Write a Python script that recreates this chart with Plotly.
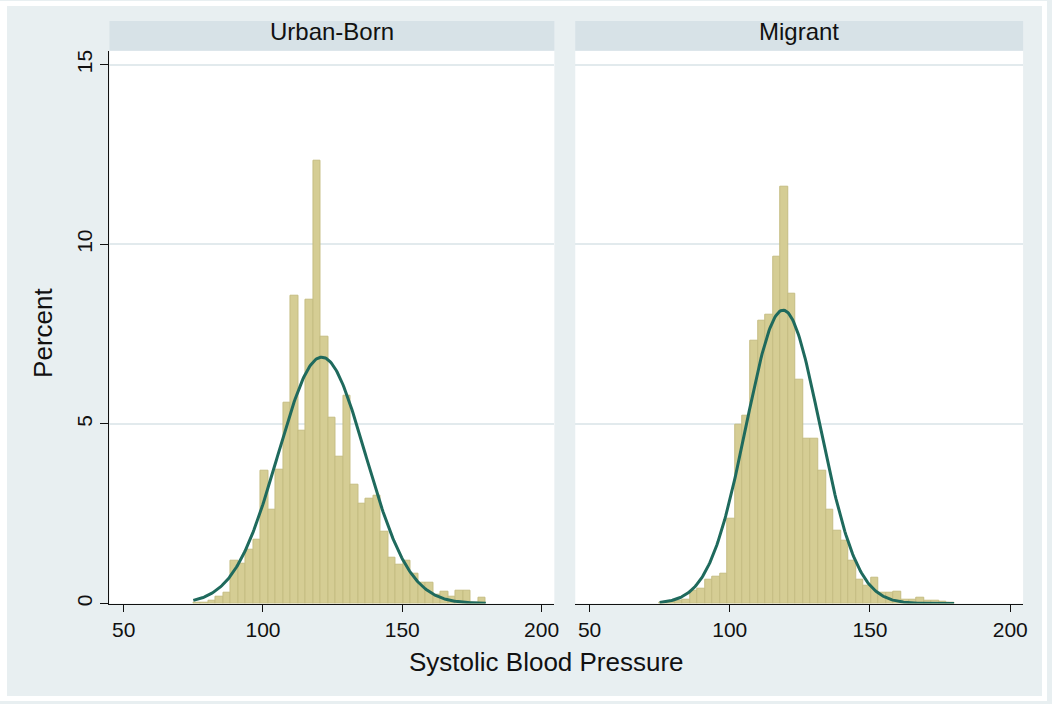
import numpy as np
import plotly.graph_objects as go

# ---- data ----
panels = ["Urban-Born", "Migrant"]
bin_lo, bin_hi, n_bins = 75.0, 180.0, 39

urban_pct = [0.02, 0.03, 0.07, 0.2, 0.3, 1.18, 1.1, 1.5, 1.78, 3.7,
             2.62, 3.72, 5.59, 8.56, 4.82, 8.45, 12.34, 7.43, 5.18, 4.09,
             5.79, 3.30, 2.79, 2.93, 3.0, 2.01, 1.27, 1.09, 1.18, 0.84,
             0.59, 0.59, 0.24, 0.33, 0.19, 0.35, 0.35, 0.03, 0.17]
migrant_pct = [0.02, 0.04, 0.07, 0.12, 0.35, 0.4, 0.65, 0.74, 0.83, 2.36,
               4.98, 5.24, 7.32, 7.86, 8.04, 9.65, 11.59, 8.63, 6.24, 4.59,
               4.59, 3.69, 2.6, 2.02, 1.75, 1.2, 0.65, 0.5, 0.72, 0.3,
               0.3, 0.33, 0.12, 0.12, 0.17, 0.09, 0.09, 0.05, 0.03]

# fitted normal parameters (mean, sd) per panel
urban_mean, urban_sd = 121.1, 15.66
migrant_mean, migrant_sd = 119.0, 13.15

x_ticks = [50, 100, 150, 200]
y_ticks = [0, 5, 10, 15]
x_title = "Systolic Blood Pressure"
y_title = "Percent"

# ---- derived ----
binw = (bin_hi - bin_lo) / n_bins
centers = bin_lo + binw * (np.arange(n_bins) + 0.5)
xc = np.linspace(bin_lo, bin_hi, 300)


def normal_pct(x, m, s):
    return 100 * binw * np.exp(-0.5 * ((x - m) / s) ** 2) / (s * np.sqrt(2 * np.pi))


W, H = 1052, 704
BG = "#E8EFF1"
STRIP = "#D7E2E7"
BAR = "#D5CD94"
BAR_LINE = "#C5BD82"
CURVE = "#1F6A5D"
GRID = "#E2EAED"
FONT = "Liberation Sans, Arial, sans-serif"

fig = go.Figure()
series = [(urban_pct, urban_mean, urban_sd), (migrant_pct, migrant_mean, migrant_sd)]
for i, (pct, m, s) in enumerate(series):
    xa = "x" if i == 0 else "x2"
    ya = "y" if i == 0 else "y2"
    fig.add_trace(go.Bar(x=centers, y=pct, width=binw, xaxis=xa, yaxis=ya,
                         marker=dict(color=BAR, line=dict(color=BAR_LINE, width=1)),
                         hoverinfo="x+y"))
    fig.add_trace(go.Scatter(x=xc, y=normal_pct(xc, m, s), mode="lines", xaxis=xa, yaxis=ya,
                             line=dict(color=CURVE, width=3)))

px = lambda v: v / W
py = lambda v: 1 - v / H

x_dom1 = [px(110), px(557)]
x_dom2 = [px(578), px(1028)]
y_dom = [py(606), py(50)]
y_range = [0, (606 - 50) / 36.13]

xcommon = dict(range=[44.9, 204.6], tickvals=x_ticks, showgrid=False, zeroline=False,
               showline=True, linecolor="#111111", linewidth=1, ticks="outside",
               ticklen=7, tickcolor="#111111",
               tickfont=dict(family=FONT, size=21, color="#111111"))
fig.update_layout(
    width=W, height=H, margin=dict(l=0, r=0, t=0, b=0),
    paper_bgcolor=BG, plot_bgcolor="white", showlegend=False, bargap=0,
    font=dict(family=FONT),
    xaxis=dict(domain=x_dom1, anchor="y", **xcommon),
    xaxis2=dict(domain=x_dom2, anchor="y2", **xcommon),
    yaxis=dict(domain=y_dom, anchor="x", range=y_range, tickvals=y_ticks,
               showgrid=True, gridcolor=GRID, gridwidth=2, zeroline=False,
               showline=True, linecolor="#111111", linewidth=1, ticks="outside",
               ticklen=8, tickcolor="#111111", tickangle=-90,
               tickfont=dict(family=FONT, size=21, color="#111111")),
    yaxis2=dict(domain=y_dom, anchor="x2", range=y_range, tickvals=y_ticks,
                showgrid=True, gridcolor=GRID, gridwidth=2, zeroline=False,
                showline=False, showticklabels=False, ticks=""),
)

shapes = []
# white outer border
for (x0, y0, x1, y1) in [(0, 0, 7, H), (0, 0, W, 5), (W - 5, 0, W, H), (0, H - 5, W, H)]:
    shapes.append(dict(type="rect", xref="paper", yref="paper", x0=px(x0), x1=px(x1),
                       y0=py(y1), y1=py(y0), fillcolor="white", line=dict(width=0), layer="below"))
# strips
for (a, b) in [(110, 557), (578, 1028)]:
    shapes.append(dict(type="rect", xref="paper", yref="paper", x0=px(a), x1=px(b),
                       y0=py(50), y1=py(20), fillcolor=STRIP, line=dict(width=0), layer="below"))
fig.update_layout(shapes=shapes)

ann = []
for name, (a, b) in zip(panels, [(110, 557), (578, 1028)]):
    ann.append(dict(text=name, xref="paper", yref="paper", x=px((a + b) / 2), y=py(31),
                    showarrow=False, xanchor="center", yanchor="middle",
                    font=dict(family=FONT, size=24, color="#111111")))
ann.append(dict(text=x_title, xref="paper", yref="paper", x=px(549), y=py(665),
                showarrow=False, xanchor="center", yanchor="middle",
                font=dict(family=FONT, size=26, color="#111111")))
ann.append(dict(text=y_title, xref="paper", yref="paper", x=px(43), y=py(334),
                showarrow=False, xanchor="center", yanchor="middle", textangle=-90,
                font=dict(family=FONT, size=26, color="#111111")))
fig.update_layout(annotations=ann)

post = (
    "var d=document.getElementById('{plot_id}');"
    "d.style.display='block';"
    "if(d.parentElement){d.parentElement.style.lineHeight='0';d.parentElement.style.fontSize='0';}"
    "document.body.style.margin='0';document.body.style.padding='0';"
    "document.body.style.overflow='hidden';"
    "document.documentElement.style.overflow='hidden';"
)
fig.write_html("out.html", config={"displayModeBar": False}, post_script=post)
